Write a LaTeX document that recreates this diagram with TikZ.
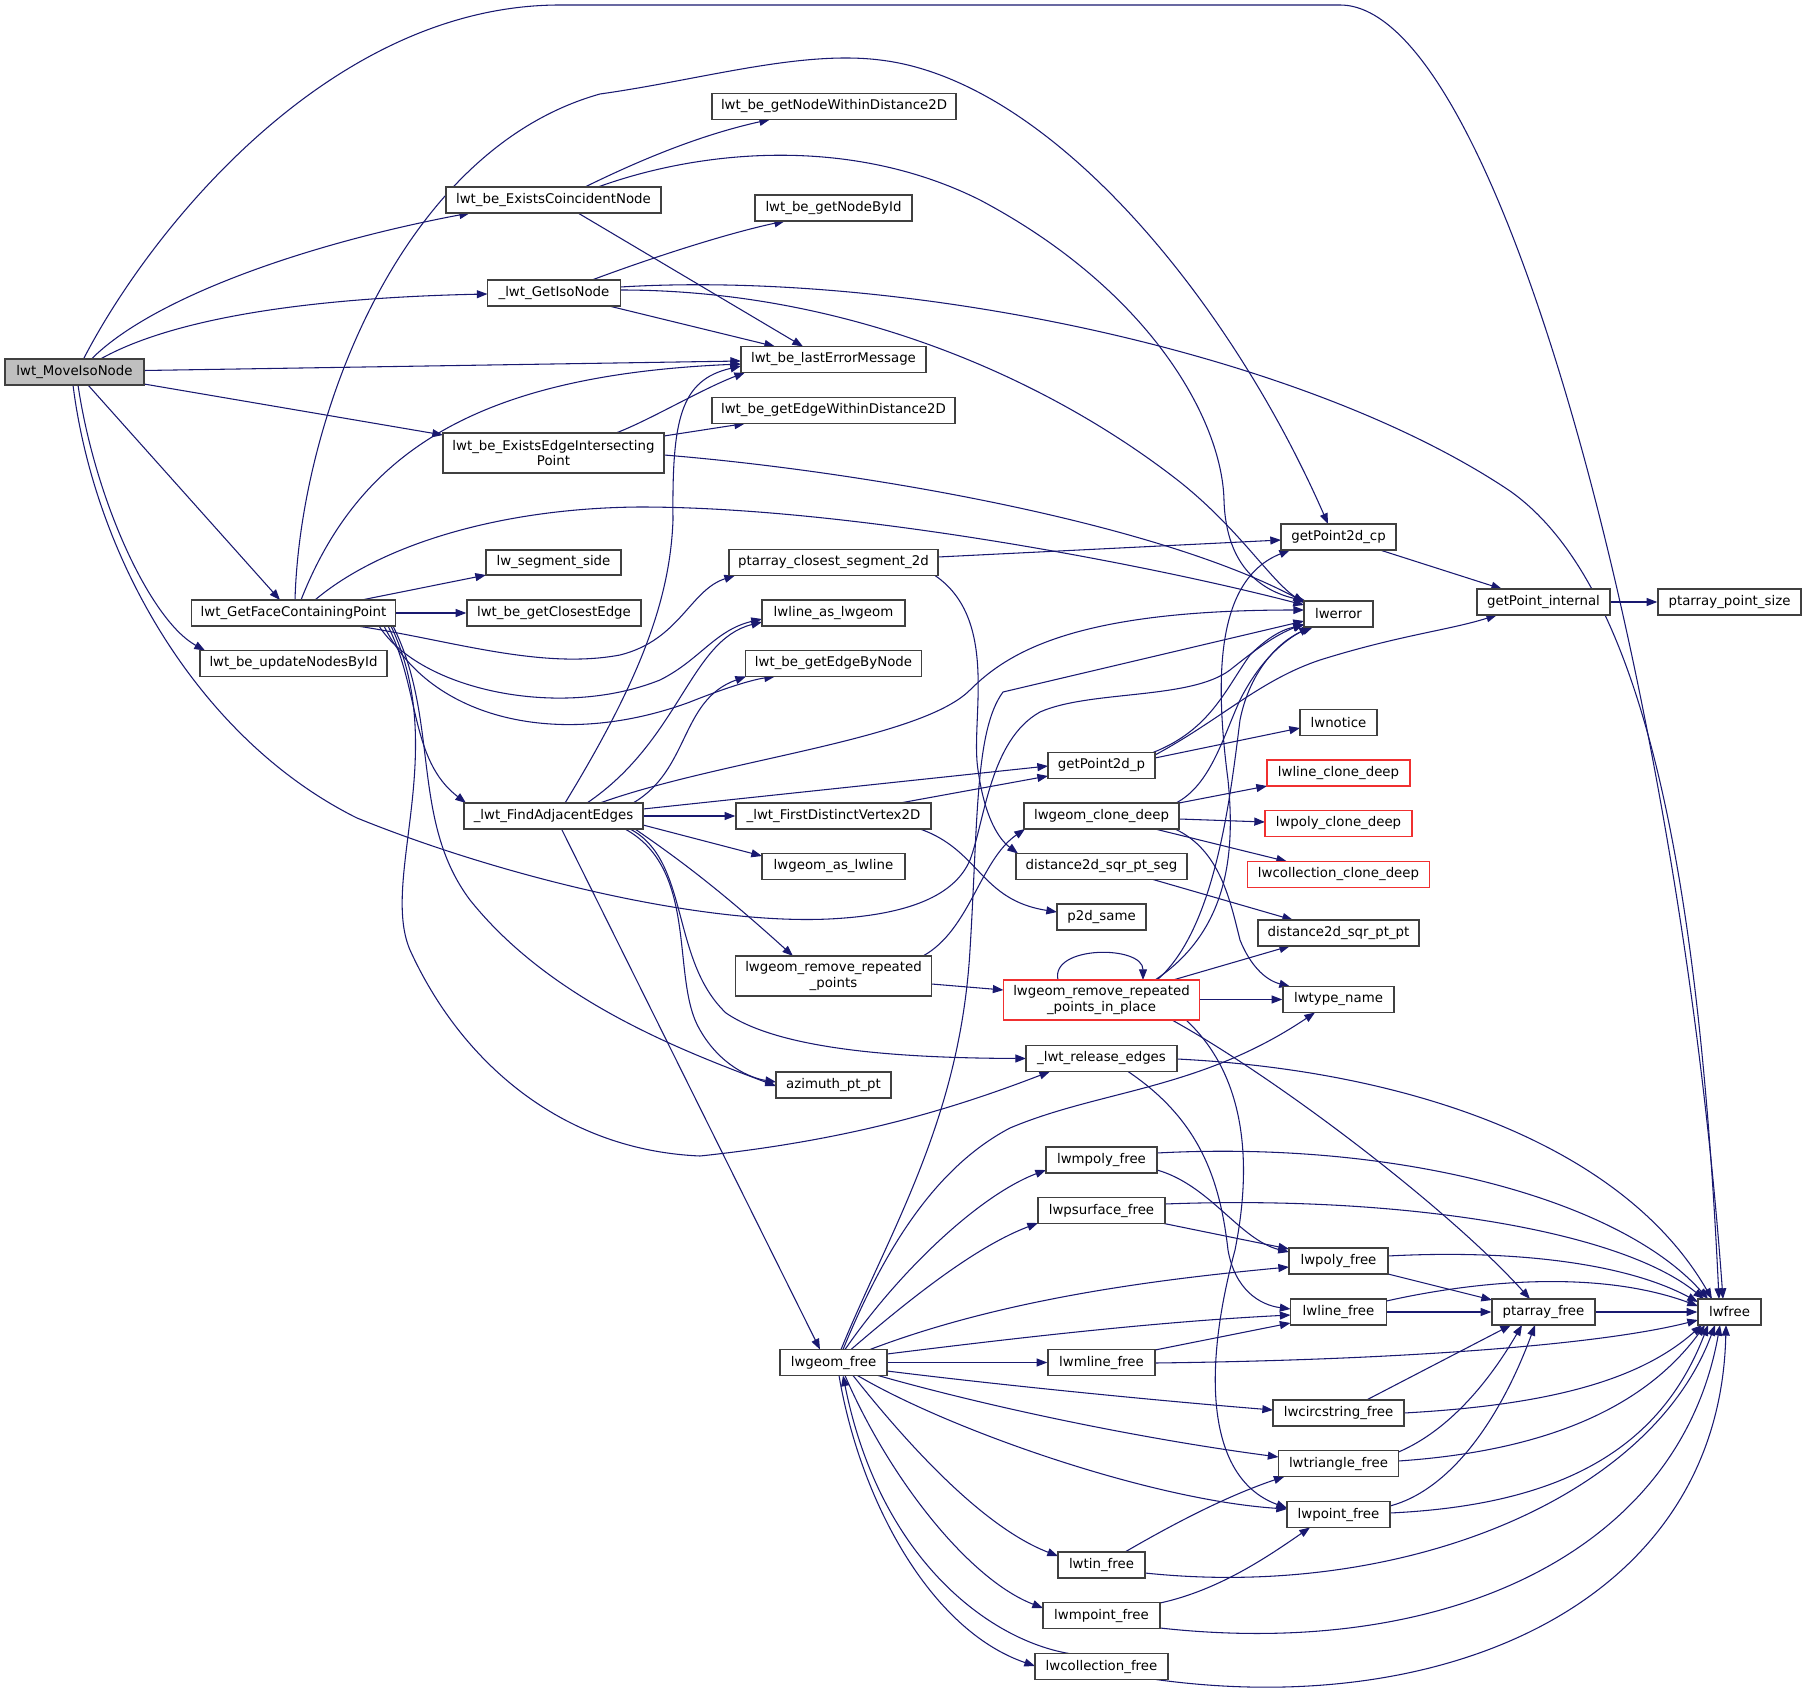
\documentclass[tikz,border=0pt]{standalone}
\usepackage{fontspec}
\setmainfont{DejaVu Sans}
\usetikzlibrary{arrows.meta,backgrounds}
\definecolor{edgec}{HTML}{191970}
\definecolor{boxb}{HTML}{404040}
\definecolor{redb}{HTML}{F03030}
\definecolor{rootf}{HTML}{BFBFBF}
\tikzset{
 box/.style={draw=boxb, line width=1.05pt, fill=white, inner sep=0pt, align=center, font=\fontsize{10pt}{11.6pt}\selectfont},
 rootbox/.style={box, fill=rootf},
 redbox/.style={box, draw=redb},
 cg/.style={draw=edgec, line width=0.8pt, -{Triangle[length=8pt,width=6pt]}},
}
\newcommand\mynode[7][]{\node[box,#1,minimum width={#5*0.75pt},minimum height={#6*0.75pt}] (#2) at (#3,#4) {#7};}
\begin{document}
\begin{tikzpicture}[x=0.75pt,y=-0.75pt]
\useasboundingbox (0,0) rectangle (1807,1708);
% nodes
\mynode[rootbox]{mv}{74.5}{372}{139}{26}{lwt\_MoveIsoNode}
\mynode{ecn}{553.5}{200}{215}{26}{lwt\_be\_ExistsCoincidentNode}
\mynode{gin}{554}{293}{133}{26}{\_lwt\_GetIsoNode}
\mynode{eeip}{553.5}{453}{221}{40}{lwt\_be\_ExistsEdgeIntersecting\\Point}
\mynode{lss}{553.5}{562.5}{135}{25}{lw\_segment\_side}
\mynode{gnwd}{834}{106.5}{244}{26}{lwt\_be\_getNodeWithinDistance2D}
\mynode{gnbi}{833.5}{208}{157}{26}{lwt\_be\_getNodeById}
\mynode{lem}{833.5}{359.5}{185}{26}{lwt\_be\_lastErrorMessage}
\mynode{gewd}{833.5}{410.5}{243}{26}{lwt\_be\_getEdgeWithinDistance2D}
\mynode{pcs}{833.5}{562.5}{209}{26}{ptarray\_closest\_segment\_2d}
\mynode{gp2cp}{1338.5}{537}{115}{26}{getPoint2d\_cp}
\mynode{lwerror}{1338.5}{614}{69}{26}{lwerror}
\mynode{gpi}{1543.5}{602}{133}{26}{getPoint\_internal}
\mynode{pps}{1729.5}{602}{143}{26}{ptarray\_point\_size}
\mynode{gfcp}{293.5}{613}{204}{26}{lwt\_GetFaceContainingPoint}
\mynode{gce}{554}{613}{174}{26}{lwt\_be\_getClosestEdge}
\mynode{unbi}{293.5}{663.5}{187}{26}{lwt\_be\_updateNodesById}
\mynode{fae}{553.5}{816}{179}{26}{\_lwt\_FindAdjacentEdges}
\mynode{lalg}{833.5}{613}{143}{26}{lwline\_as\_lwgeom}
\mynode{gebn}{833.5}{663.5}{176}{26}{lwt\_be\_getEdgeByNode}
\mynode{gp2p}{1101.5}{765.5}{107}{26}{getPoint2d\_p}
\mynode{fdv}{833.5}{816}{195}{26}{\_lwt\_FirstDistinctVertex2D}
\mynode{lcd}{1101.5}{816}{155}{26}{lwgeom\_clone\_deep}
\mynode{lal}{833.5}{866.5}{143}{26}{lwgeom\_as\_lwline}
\mynode{dsps}{1101.5}{866.5}{171}{26}{distance2d\_sqr\_pt\_seg}
\mynode{p2d}{1101.5}{917}{89}{26}{p2d\_same}
\mynode{rrp}{833.5}{976}{196}{40}{lwgeom\_remove\_repeated\\\_points}
\mynode[redbox]{rrpip}{1101.5}{1000}{196}{40}{lwgeom\_remove\_repeated\\\_points\_in\_place}
\mynode{rel}{1101.5}{1058.5}{151}{26}{\_lwt\_release\_edges}
\mynode{azi}{833.5}{1085}{115}{26}{azimuth\_pt\_pt}
\mynode{lwnotice}{1338.5}{722.5}{77}{26}{lwnotice}
\mynode[redbox]{llcd}{1338.5}{773}{143}{26}{lwline\_clone\_deep}
\mynode[redbox]{lpcd}{1338.5}{823.5}{147}{26}{lwpoly\_clone\_deep}
\mynode[redbox]{lccd}{1338.5}{874.5}{182}{26}{lwcollection\_clone\_deep}
\mynode{dspp}{1338.5}{933}{161}{26}{distance2d\_sqr\_pt\_pt}
\mynode{ltn}{1338.5}{999.5}{111}{26}{lwtype\_name}
\mynode{lmpf}{1101.5}{1160}{111}{26}{lwmpoly\_free}
\mynode{lpsf}{1101.5}{1210.5}{127}{26}{lwpsurface\_free}
\mynode{lgf}{833.5}{1362.5}{107}{26}{lwgeom\_free}
\mynode{lmlf}{1101.5}{1362.5}{107}{26}{lwmline\_free}
\mynode{ltinf}{1101.5}{1565}{87}{26}{lwtin\_free}
\mynode{lmptf}{1101.5}{1615.5}{117}{26}{lwmpoint\_free}
\mynode{lcolf}{1101.5}{1666.5}{133}{26}{lwcollection\_free}
\mynode{lpf}{1338.5}{1261}{99}{26}{lwpoly\_free}
\mynode{llf}{1338.5}{1312}{96}{26}{lwline\_free}
\mynode{paf}{1543.5}{1312}{103}{26}{ptarray\_free}
\mynode{lwfree}{1729.5}{1312}{63}{26}{lwfree}
\mynode{lcsf}{1338.5}{1413}{131}{26}{lwcircstring\_free}
\mynode{ltrf}{1338.5}{1463.5}{120}{26}{lwtriangle\_free}
\mynode{lptf}{1338.5}{1514.5}{103}{26}{lwpoint\_free}
% edges
\begin{scope}[on background layer]
% from lwt_MoveIsoNode
\draw[cg] ([shift={(9,-13)}]mv.center) .. controls (150,230) and (330,5) .. (560,5) -- (1340,5) .. controls (1500,5) and (1680,700) .. ([shift={(-6.5,-13)}]lwfree.center);
\draw[cg] ([shift={(17,-13)}]mv.center) .. controls (150,300) and (300,245) .. ([shift={(-83.5,13)}]ecn.center);
\draw[cg] ([shift={(26,-13)}]mv.center) .. controls (170,320) and (300,298) .. ([shift={(-66.5,1)}]gin.center);
\draw[cg] ([shift={(69.5,-1.5)}]mv.center) -- ([shift={(-92.5,1.5)}]lem.center);
\draw[cg] ([shift={(69.5,12)}]mv.center) -- ([shift={(-110.5,-18)}]eeip.center);
\draw[cg] ([shift={(13.5,13)}]mv.center) -- ([shift={(-13.5,-13)}]gfcp.center);
\draw[cg] ([shift={(3.5,13)}]mv.center) .. controls (95,500) and (150,620) .. ([shift={(-88.5,-13)}]unbi.center);
\draw[cg] ([shift={(-1.5,13)}]mv.center) .. controls (95,560) and (200,740) .. (357,818) .. controls (500,876) and (700,925) .. (829,919) .. controls (910,915) and (955,895) .. (970,860) .. controls (985,820) and (990,740) .. (1040,712) .. controls (1090,690) and (1190,700) .. (1230,670) .. controls (1255,650) and (1275,635) .. ([shift={(-34.5,10)}]lwerror.center);
% lwt_be_ExistsCoincidentNode
\draw[cg] ([shift={(31.5,-13)}]ecn.center) .. controls (640,160) and (700,135) .. ([shift={(-64,13)}]gnwd.center);
\draw[cg] ([shift={(44.5,-13)}]ecn.center) .. controls (700,150) and (850,135) .. (980,200) .. controls (1150,290) and (1222,420) .. (1224,500) .. controls (1226,570) and (1265,592) .. ([shift={(-32.5,-13)}]lwerror.center);
\draw[cg] ([shift={(24.5,13)}]ecn.center) -- ([shift={(-30.5,-13)}]lem.center);
% _lwt_GetIsoNode
\draw[cg] ([shift={(38,-13)}]gin.center) .. controls (640,262) and (720,235) .. ([shift={(-48.5,13)}]gnbi.center);
\draw[cg] ([shift={(66.5,-6)}]gin.center) .. controls (900,270) and (1300,350) .. (1510,491) .. controls (1650,590) and (1700,900) .. ([shift={(-10.5,-13)}]lwfree.center);
\draw[cg] ([shift={(66.5,-3)}]gin.center) .. controls (850,290) and (1050,380) .. (1180,482) .. controls (1240,530) and (1270,580) .. ([shift={(-34.5,-11)}]lwerror.center);
\draw[cg] ([shift={(55,13)}]gin.center) -- ([shift={(-58.5,-13)}]lem.center);
% lwt_be_ExistsEdgeIntersectingPoint
\draw[cg] ([shift={(110.5,-17)}]eeip.center) -- ([shift={(-88.5,13)}]gewd.center);
\draw[cg] ([shift={(62.5,-20)}]eeip.center) .. controls (650,420) and (700,390) .. ([shift={(-88.5,13)}]lem.center);
\draw[cg] ([shift={(110.5,2)}]eeip.center) .. controls (850,470) and (1150,520) .. ([shift={(-34.5,-12)}]lwerror.center);
% lwt_GetFaceContainingPoint
\draw[cg] ([shift={(21.5,-13)}]gfcp.center) .. controls (380,545) and (500,508) .. (640,507) .. controls (850,507) and (1150,565) .. ([shift={(-34.5,-9)}]lwerror.center);
\draw[cg] ([shift={(7.5,-13)}]gfcp.center) .. controls (360,450) and (480,375) .. ([shift={(-92.5,4.5)}]lem.center);
\draw[cg] ([shift={(1.5,-13)}]gfcp.center) .. controls (300,420) and (400,150) .. (600,94) .. controls (700,80) and (800,50) .. (880,60) .. controls (1050,80) and (1230,300) .. ([shift={(-10.5,-13)}]gp2cp.center);
\draw[cg] ([shift={(68,-13)}]gfcp.center) -- ([shift={(-67.5,12.5)}]lss.center);
\draw[cg] (gfcp.east) -- (gce.west);
\draw[cg] ([shift={(63.5,13)}]gfcp.center) .. controls (450,640) and (540,670) .. (620,655) .. controls (680,640) and (690,590) .. ([shift={(-98.5,13)}]pcs.center);
\draw[cg] ([shift={(85.5,13)}]gfcp.center) .. controls (420,690) and (560,720) .. (660,680) .. controls (700,660) and (715,630) .. ([shift={(-71.5,6)}]lalg.center);
\draw[cg] ([shift={(90.5,13)}]gfcp.center) .. controls (430,720) and (560,750) .. (690,702) .. controls (720,690) and (750,680) .. ([shift={(-58.5,13)}]gebn.center);
\draw[cg] ([shift={(94.5,13)}]gfcp.center) .. controls (420,690) and (410,760) .. ([shift={(-87.5,-13)}]fae.center);
\draw[cg] ([shift={(97.5,13)}]gfcp.center) .. controls (450,750) and (380,880) .. (410,950) .. controls (460,1060) and (560,1150) .. (700,1156) .. controls (850,1140) and (950,1110) .. ([shift={(-51.5,13)}]rel.center);
\draw[cg] ([shift={(99.5,13)}]gfcp.center) .. controls (440,720) and (410,820) .. (470,900) .. controls (550,1000) and (680,1050) .. ([shift={(-57.5,1)}]azi.center);
% _lwt_FindAdjacentEdges
\draw[cg] ([shift={(11.5,-13)}]fae.center) .. controls (640,680) and (670,600) .. (673,520) .. controls (672,420) and (680,380) .. ([shift={(-92.5,6.5)}]lem.center);
\draw[cg] ([shift={(33.5,-13)}]fae.center) .. controls (680,740) and (690,640) .. ([shift={(-71.5,9)}]lalg.center);
\draw[cg] ([shift={(79.5,-13)}]fae.center) .. controls (690,770) and (680,700) .. ([shift={(-87.5,13)}]gebn.center);
\draw[cg] ([shift={(46.5,-13)}]fae.center) .. controls (720,760) and (920,740) .. (970,690) .. controls (1010,650) and (1080,610) .. ([shift={(-34.5,-4)}]lwerror.center);
\draw[cg] ([shift={(89.5,-7)}]fae.center) -- ([shift={(-53.5,0.5)}]gp2p.center);
\draw[cg] (fae.east) -- (fdv.west);
\draw[cg] ([shift={(89.5,9)}]fae.center) -- ([shift={(-71.5,-10.5)}]lal.center);
\draw[cg] ([shift={(81.5,13)}]fae.center) .. controls (680,860) and (720,890) .. ([shift={(-40.5,-20)}]rrp.center);
\draw[cg] ([shift={(76.5,13)}]fae.center) .. controls (690,860) and (670,960) .. (726,1013) .. controls (780,1050) and (900,1058) .. ([shift={(-75.5,0)}]rel.center);
\draw[cg] ([shift={(71.5,13)}]fae.center) .. controls (700,870) and (670,980) .. (700,1030) .. controls (720,1065) and (750,1078) .. ([shift={(-57.5,-3)}]azi.center);
\draw[cg] ([shift={(8,13)}]fae.center) -- ([shift={(-13.5,-13)}]lgf.center);
% _lwt_FirstDistinctVertex2D
\draw[cg] ([shift={(66.5,-13)}]fdv.center) -- ([shift={(-53.5,10.5)}]gp2p.center);
\draw[cg] ([shift={(86.5,13)}]fdv.center) .. controls (980,850) and (980,900) .. ([shift={(-44.5,-5)}]p2d.center);
% ptarray_closest_segment_2d
\draw[cg] ([shift={(104.5,-5.5)}]pcs.center) -- ([shift={(-57.5,3)}]gp2cp.center);
\draw[cg] ([shift={(101.5,13)}]pcs.center) .. controls (1000,620) and (970,720) .. (978,770) .. controls (985,820) and (1000,840) .. ([shift={(-83.5,-13)}]dsps.center);
% getPoint2d_cp, getPoint_internal
\draw[cg] ([shift={(41.5,13)}]gp2cp.center) -- ([shift={(-41.5,-13)}]gpi.center);
\draw[cg] (gpi.east) -- (pps.west);
% getPoint2d_p
\draw[cg] ([shift={(51.5,-13)}]gp2p.center) .. controls (1210,730) and (1225,690) .. (1250,655) .. controls (1265,640) and (1280,630) .. ([shift={(-34.5,11)}]lwerror.center);
\draw[cg] ([shift={(53.5,-10.5)}]gp2p.center) .. controls (1220,720) and (1260,680) .. (1320,660) .. controls (1400,635) and (1450,630) .. ([shift={(-46.5,13)}]gpi.center);
\draw[cg] ([shift={(53.5,-7.5)}]gp2p.center) -- ([shift={(-38.5,5.5)}]lwnotice.center);
% lwgeom_clone_deep
\draw[cg] ([shift={(77.5,-13)}]lcd.center) -- ([shift={(-71.5,13)}]llcd.center);
\draw[cg] ([shift={(77.5,3)}]lcd.center) -- ([shift={(-73.5,-1.5)}]lpcd.center);
\draw[cg] ([shift={(53.5,13)}]lcd.center) -- ([shift={(-51.5,-13)}]lccd.center);
\draw[cg] ([shift={(73.5,13)}]lcd.center) .. controls (1220,850) and (1230,900) .. (1240,940) .. controls (1250,965) and (1265,980) .. ([shift={(-48.5,-13)}]ltn.center);
\draw[cg] ([shift={(74.5,-13)}]lcd.center) .. controls (1210,785) and (1222,740) .. (1240,700) .. controls (1260,660) and (1285,640) .. ([shift={(-28.5,13)}]lwerror.center);
% distance2d_sqr_pt_seg
\draw[cg] ([shift={(51.5,13)}]dsps.center) -- ([shift={(-45.5,-13)}]dspp.center);
% lwgeom_remove_repeated_points_in_place
\draw[cg] ([shift={(71.5,-20)}]rrpip.center) -- ([shift={(-48.5,13)}]dspp.center);
\draw[cg] ([shift={(98,-0.5)}]rrpip.center) -- (ltn.west);
\draw[cg] ([shift={(-43.5,-20)}]rrpip.center) .. controls (1050,945) and (1143,945) .. ([shift={(41.5,-20)}]rrpip.center);
\draw[cg] ([shift={(53.5,-20)}]rrpip.center) .. controls (1230,930) and (1235,850) .. (1228,780) .. controls (1215,680) and (1215,580) .. ([shift={(-48.5,13)}]gp2cp.center);
\draw[cg] ([shift={(55.5,-20)}]rrpip.center) .. controls (1215,930) and (1230,800) .. (1240,720) .. controls (1250,670) and (1280,640) .. ([shift={(-25.5,13)}]lwerror.center);
\draw[cg] ([shift={(70.5,20)}]rrpip.center) .. controls (1280,1080) and (1450,1210) .. ([shift={(-13.5,-13)}]paf.center);
\draw[cg] ([shift={(84.5,20)}]rrpip.center) .. controls (1240,1070) and (1255,1150) .. (1235,1250) .. controls (1200,1380) and (1210,1480) .. ([shift={(-51.5,-6.5)}]lptf.center);
% lwgeom_remove_repeated_points
\draw[cg] ([shift={(89.5,-20)}]rrp.center) .. controls (970,930) and (980,860) .. ([shift={(-76.5,13)}]lcd.center);
\draw[cg] ([shift={(98,8)}]rrp.center) -- ([shift={(-98,-10)}]rrpip.center);
% _lwt_release_edges
\draw[cg] ([shift={(75.5,0.5)}]rel.center) .. controls (1400,1070) and (1620,1140) .. ([shift={(-17.5,-13)}]lwfree.center);
\draw[cg] ([shift={(26.5,13)}]rel.center) .. controls (1200,1120) and (1220,1180) .. (1228,1250) .. controls (1235,1290) and (1260,1305) .. ([shift={(-48,-3)}]llf.center);
% lwgeom_free
\draw[cg] ([shift={(7.5,-13)}]lgf.center) .. controls (890,1230) and (960,1120) .. (970,950) .. controls (978,820) and (975,730) .. (1003,692) -- ([shift={(-34.5,7)}]lwerror.center);
\draw[cg] ([shift={(9.5,-13)}]lgf.center) .. controls (880,1260) and (930,1170) .. (1010,1128) .. controls (1100,1090) and (1200,1090) .. ([shift={(-23.5,13)}]ltn.center);
\draw[cg] ([shift={(11.5,-13)}]lgf.center) .. controls (900,1270) and (980,1195) .. ([shift={(-55.5,10)}]lmpf.center);
\draw[cg] ([shift={(17.5,-13)}]lgf.center) .. controls (920,1290) and (980,1245) .. ([shift={(-63.5,12.5)}]lpsf.center);
\draw[cg] ([shift={(36.5,-13)}]lgf.center) .. controls (1000,1300) and (1150,1280) .. ([shift={(-49.5,6)}]lpf.center);
\draw[cg] ([shift={(53.5,-8.5)}]lgf.center) .. controls (1000,1340) and (1150,1322) .. ([shift={(-48,3)}]llf.center);
\draw[cg] (lgf.east) -- (lmlf.west);
\draw[cg] ([shift={(53.5,8.5)}]lgf.center) .. controls (1000,1385) and (1150,1400) .. ([shift={(-65.5,-3)}]lcsf.center);
\draw[cg] ([shift={(44.5,13)}]lgf.center) .. controls (1000,1410) and (1150,1440) .. ([shift={(-60,-6.5)}]ltrf.center);
\draw[cg] ([shift={(24,13)}]lgf.center) .. controls (950,1430) and (1150,1500) .. ([shift={(-51.5,-5.5)}]lptf.center);
\draw[cg] ([shift={(19.5,13)}]lgf.center) .. controls (920,1460) and (990,1530) .. ([shift={(-43.5,-9)}]ltinf.center);
\draw[cg] ([shift={(11.5,13)}]lgf.center) .. controls (890,1480) and (970,1580) .. ([shift={(-58.5,-7.5)}]lmptf.center);
\draw[cg] ([shift={(5.5,13)}]lgf.center) .. controls (860,1500) and (930,1630) .. ([shift={(-66.5,-0.5)}]lcolf.center);
\draw[cg] ([shift={(-32.5,-13)}]lcolf.center) .. controls (990,1640) and (880,1560) .. ([shift={(9.5,13)}]lgf.center);
% free functions
\draw[cg] ([shift={(55.5,-7)}]lmpf.center) .. controls (1400,1140) and (1620,1200) .. ([shift={(-21.5,-13)}]lwfree.center);
\draw[cg] ([shift={(55.5,10)}]lmpf.center) .. controls (1210,1185) and (1240,1240) .. ([shift={(-49.5,-9)}]lpf.center);
\draw[cg] ([shift={(63.5,-6.5)}]lpsf.center) .. controls (1400,1195) and (1620,1230) .. ([shift={(-25.5,-13)}]lwfree.center);
\draw[cg] ([shift={(62.5,13)}]lpsf.center) -- ([shift={(-49.5,-12)}]lpf.center);
\draw[cg] ([shift={(49.5,-5)}]lpf.center) .. controls (1500,1250) and (1620,1260) .. ([shift={(-31.5,-10)}]lwfree.center);
\draw[cg] ([shift={(49.5,13)}]lpf.center) -- ([shift={(-51.5,-12)}]paf.center);
\draw[cg] (llf.east) -- (paf.west);
\draw[cg] ([shift={(48,-11)}]llf.center) .. controls (1480,1280) and (1600,1270) .. ([shift={(-31.5,-6)}]lwfree.center);
\draw[cg] (paf.east) -- (lwfree.west);
\draw[cg] ([shift={(53.5,0.5)}]lmlf.center) .. controls (1400,1360) and (1600,1345) .. ([shift={(-31.5,8)}]lwfree.center);
\draw[cg] ([shift={(53.5,-12.5)}]lmlf.center) -- ([shift={(-48,11)}]llf.center);
\draw[cg] ([shift={(65.5,0)}]lcsf.center) .. controls (1550,1405) and (1640,1380) .. ([shift={(-27.5,13)}]lwfree.center);
\draw[cg] ([shift={(28,-13)}]lcsf.center) -- ([shift={(-32.5,13)}]paf.center);
\draw[cg] ([shift={(60,-11.5)}]ltrf.center) .. controls (1450,1430) and (1490,1380) .. ([shift={(-21.5,13)}]paf.center);
\draw[cg] ([shift={(60,-2.5)}]ltrf.center) .. controls (1560,1450) and (1650,1400) .. ([shift={(-24.5,13)}]lwfree.center);
\draw[cg] ([shift={(51.5,-8.5)}]lptf.center) .. controls (1450,1490) and (1500,1420) .. ([shift={(-8.5,13)}]paf.center);
\draw[cg] ([shift={(51.5,-1.5)}]lptf.center) .. controls (1560,1505) and (1660,1450) .. ([shift={(-21.5,13)}]lwfree.center);
\draw[cg] ([shift={(23.5,-13)}]ltinf.center) .. controls (1180,1520) and (1230,1495) .. ([shift={(-54,13)}]ltrf.center);
\draw[cg] ([shift={(43.5,8)}]ltinf.center) .. controls (1400,1600) and (1650,1500) .. ([shift={(-14.5,13)}]lwfree.center);
\draw[cg] ([shift={(58.5,-12.5)}]lmptf.center) .. controls (1220,1590) and (1270,1555) .. ([shift={(-28.5,13)}]lptf.center);
\draw[cg] ([shift={(58.5,12.5)}]lmptf.center) .. controls (1450,1660) and (1680,1550) .. ([shift={(-9.5,13)}]lwfree.center);
\draw[cg] ([shift={(54.5,13)}]lcolf.center) .. controls (1450,1720) and (1720,1600) .. ([shift={(-3.5,13)}]lwfree.center);
\end{scope}
\end{tikzpicture}
\end{document}
